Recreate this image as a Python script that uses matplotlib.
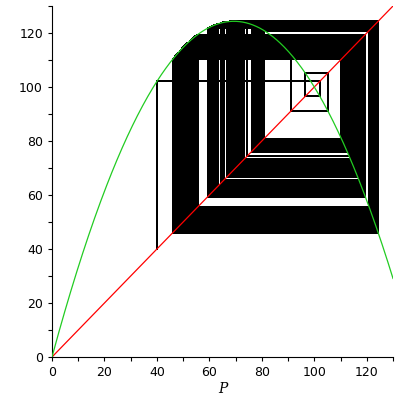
import numpy as np
import matplotlib
matplotlib.use("Agg")
import matplotlib.pyplot as plt

# model parameters (fixed point, start value, peak)
r = 2.587
K = 100.0
P0 = 40.0
n_iter = 600
p_max = 130.0

xticks = [0, 20, 40, 60, 80, 100, 120]
yticks = [0, 20, 40, 60, 80, 100, 120]


def f(p):
    return p + r * p * (1 - p / K)


# cobweb path
xs = [P0]
ys = [P0]
p = P0
for i in range(n_iter):
    q = f(p)
    xs += [p, q]
    ys += [q, q]
    p = q

P = np.linspace(0, p_max, 400)

fig = plt.figure(figsize=(4, 4), dpi=100)
ax = fig.add_axes([0.13, 0.1075, 0.8525, 0.8775])

ax.plot(xs, ys, color="black", lw=0.72, zorder=1, antialiased=False)
ax.plot([0, p_max], [0, p_max], color="red", lw=0.9, zorder=2)
ax.plot(P, f(P), color="#22cc22", lw=0.9, zorder=3)

ax.set_xlim(0, p_max)
ax.set_ylim(0, p_max)
ax.spines["top"].set_visible(False)
ax.spines["right"].set_visible(False)
ax.set_xticks(xticks)
ax.set_yticks(yticks)
ax.set_xticks(np.arange(10, 131, 20), minor=True)
ax.set_yticks(np.arange(10, 131, 20), minor=True)
ax.tick_params(which="both", length=3, width=0.8, labelsize=9)
ax.set_xlabel("P", fontstyle="italic", fontfamily="DejaVu Serif", fontsize=10, labelpad=2)

fig.savefig("out.png", dpi=100)
